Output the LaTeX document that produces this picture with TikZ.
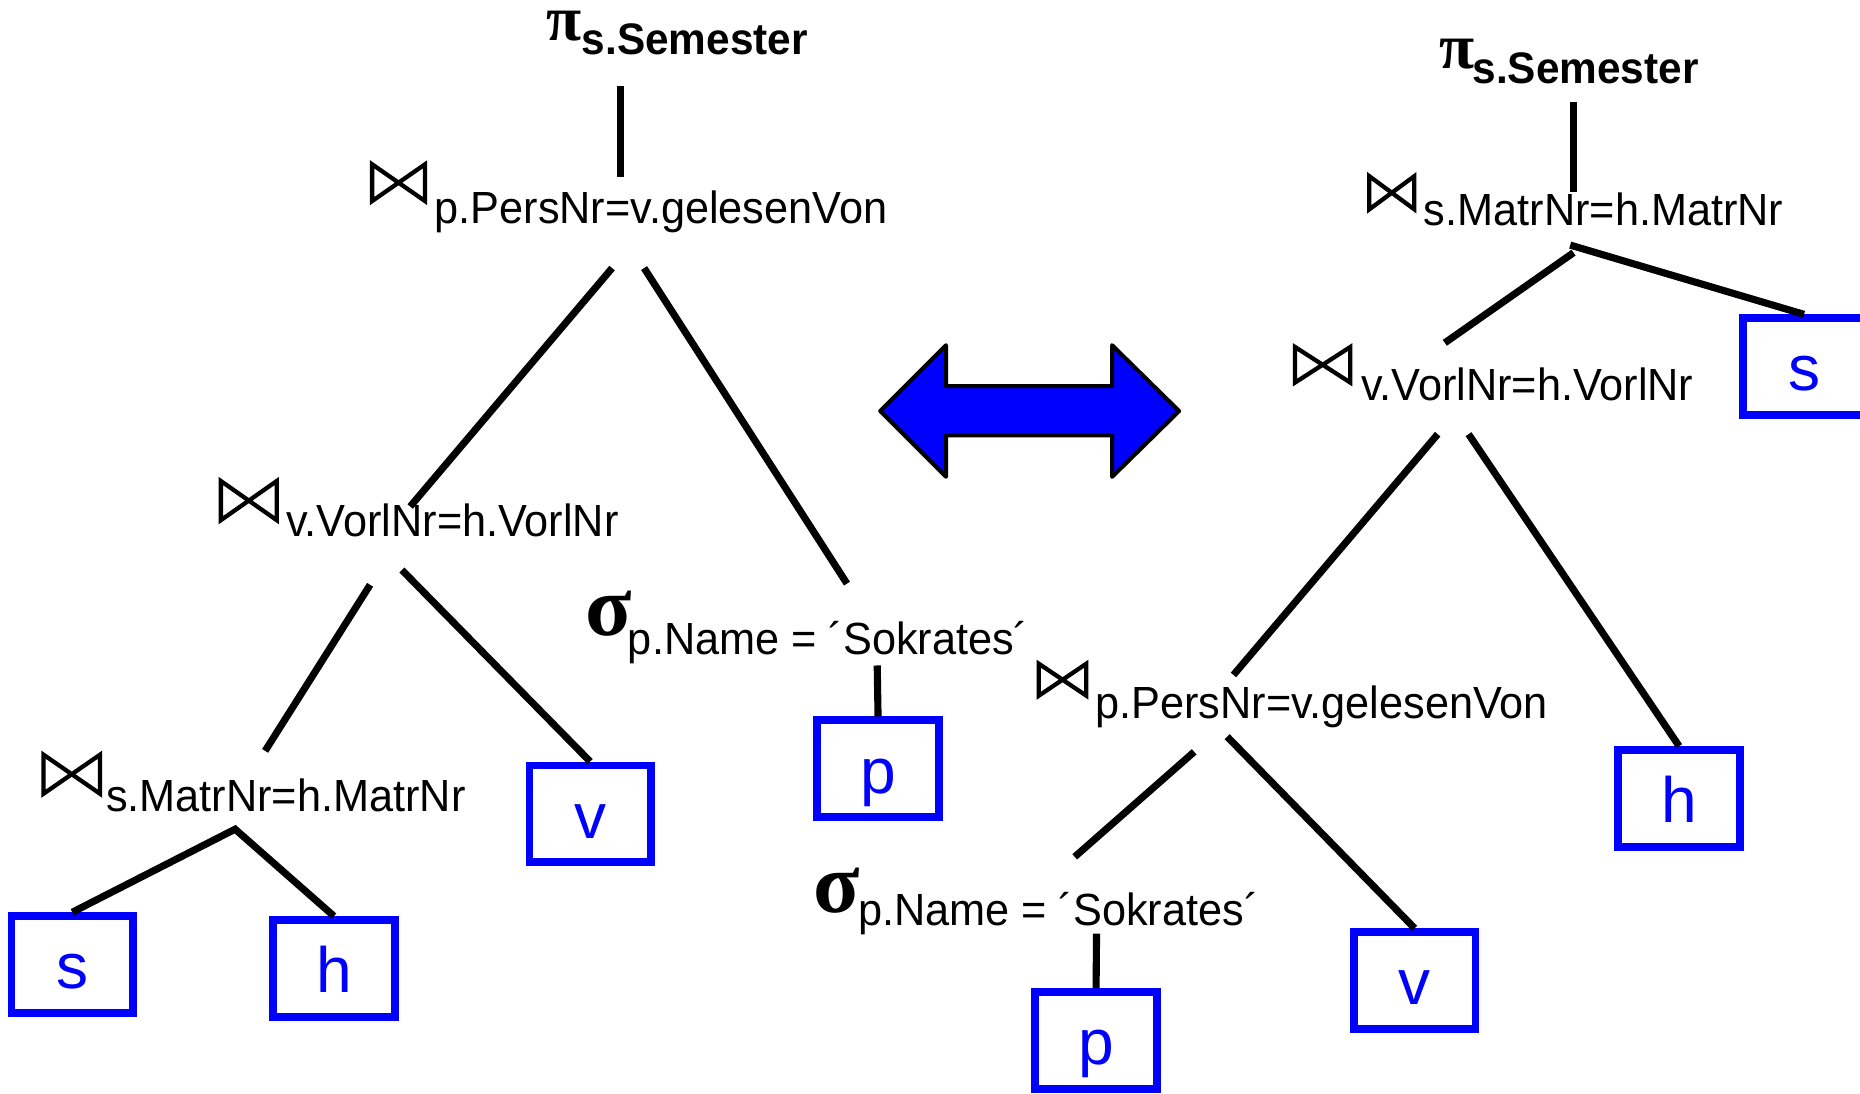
\documentclass[tikz,border=0pt]{standalone}
\usepackage{fontspec}
\setmainfont{Liberation Sans}
\newfontfamily\subfont{Liberation Sans}[FakeStretch=0.96]
\newfontfamily\greekserif{Liberation Serif}
\definecolor{relblue}{RGB}{0,0,255}
% outline bowtie (natural join symbol): top-left corner, width, height
\newcommand\jointie[4]{\draw[tie] (#1,#2) -- ++(#3,#4) -- ++(0,-#4) -- ++(-#3,#4) -- cycle;}
\begin{document}
\begin{tikzpicture}[x=0.5pt,y=-0.5pt,
  sub/.style={font=\subfont\fontsize{19}{22}\selectfont, inner sep=0pt, anchor=base west},
  subbold/.style={font=\subfont\bfseries\fontsize{18.6}{22}\selectfont, inner sep=0pt, anchor=base west},
  pisym/.style={font=\greekserif\bfseries\fontsize{27}{30}\selectfont, inner sep=0pt, anchor=base west},
  sigsym/.style={font=\greekserif\bfseries\fontsize{36}{40}\selectfont, inner sep=0pt, anchor=base west},
  relbox/.style={draw=relblue, line width=3.25pt, text=relblue, minimum width=51.25pt,
    minimum height=40.75pt, inner sep=0pt, text height=20.5pt, text depth=0pt,
    font=\fontsize{27}{32}\selectfont},
  link/.style={line width=3pt},
  tie/.style={line width=1.8pt, line join=miter},
  swaparrow/.style={fill=relblue, draw=black, line width=1.7pt, line join=round}]
\useasboundingbox (0,0) rectangle (1568,922);

% ---------------- left plan ----------------
\node[pisym] (piL) at (460,34) {π};
\node[subbold] (piLs) at (490,46) {s.Semester};
\jointie{313.7}{138.5}{44.6}{31}
\node[sub] (j1L) at (366,188) {p.PersNr=v.gelesenVon};
\jointie{186.2}{405.5}{47.1}{33}
\node[sub] (j2L) at (241,452) {v.VorlNr=h.VorlNr};
\jointie{36.7}{636.2}{47.6}{32.9}
\node[sub] (j3L) at (89,684.3) {s.MatrNr=h.MatrNr};
\node[sigsym] (sgL) at (493,536) {σ};
\node[sub] (sgLs) at (529,551.4) {p.Name = ´Sokrates´};

\node[relbox] (sLbox) at (61,813) {s};
\node[relbox] (hLbox) at (281.5,816.3) {h};
\node[relbox] (vLbox) at (497.5,686) {v};
\node[relbox] (pLbox) at (740.2,648) {p};

\coordinate (piLa) at (522.8,72.5);
\coordinate (j1Ltop) at (522.8,149);
\coordinate (j1La) at (516,226);
\coordinate (j2Ltop) at (345.8,427);
\coordinate (j1Lb) at (543,226);
\coordinate (sgLtop) at (714,492);
\coordinate (j2La) at (312,493);
\coordinate (j3Ltop) at (223.5,633);
\coordinate (j2Lb) at (338.8,480.5);
\coordinate (j3La) at (198.2,699);
\coordinate (sgLa) at (739.5,561);

\draw[link] (piLa) -- (j1Ltop);
\draw[link] (j1La) -- (j2Ltop);
\draw[link] (j1Lb) -- (sgLtop);
\draw[link] (j2La) -- (j3Ltop);
\draw[link] (j2Lb) -- (vLbox.north);
\draw[link] (sLbox.north) -- (j3La) -- (hLbox.north);
\draw[link] (sgLa) -- (pLbox.north);

% ---------------- equivalence arrow ----------------
\draw[swaparrow] (742,346.5) -- (797.5,291) -- (797.5,325.5) -- (937.5,325.5) -- (937.5,291)
  -- (994,346.5) -- (937.5,402) -- (937.5,367) -- (797.5,367) -- (797.5,402) -- cycle;

% ---------------- right plan ----------------
\node[pisym] (piR) at (1213,58) {π};
\node[subbold] (piRs) at (1241,70) {s.Semester};
\jointie{1154.3}{148.5}{38}{28}
\node[sub] (j1R) at (1200,190) {s.MatrNr=h.MatrNr};
\jointie{1091.7}{292.5}{46.6}{30}
\node[sub] (j2R) at (1147,338) {v.VorlNr=h.VorlNr};
\jointie{875.7}{559.5}{40.1}{27}
\node[sub] (j3R) at (923,606) {p.PersNr=v.gelesenVon};
\node[sigsym] (sgR) at (685,769) {σ};
\node[sub] (sgRs) at (723,780) {p.Name = ´Sokrates´};

\node[relbox] (sRbox) at (1520.8,309) {s};
\node[relbox] (hRbox) at (1415.5,673) {h};
\node[relbox] (vRbox) at (1192.5,826.5) {v};
\node[relbox] (pRbox) at (924,877) {p};

\coordinate (piRa) at (1326.5,85.7);
\coordinate (j1Rtop) at (1326.5,161.6);
\coordinate (j1Ra) at (1326.5,213);
\coordinate (j2Rtop) at (1218,289);
\coordinate (j1Rb) at (1323.7,206.6);
\coordinate (j2Ra) at (1212,366);
\coordinate (j3Rtop) at (1039.8,569);
\coordinate (j2Rb) at (1238,366);
\coordinate (j3Ra) at (1006.7,633.8);
\coordinate (sgRtop) at (906,722.3);
\coordinate (j3Rb) at (1034.5,621);
\coordinate (sgRa) at (924.4,787);

\draw[link] (piRa) -- (j1Rtop);
\draw[link] (j1Ra) -- (j2Rtop);
\draw[link] (j1Rb) -- (sRbox.north);
\draw[link] (j2Ra) -- (j3Rtop);
\draw[link] (j2Rb) -- (hRbox.north);
\draw[link] (j3Ra) -- (sgRtop);
\draw[link] (j3Rb) -- (vRbox.north);
\draw[link] (sgRa) -- (pRbox.north);
\end{tikzpicture}
\end{document}
